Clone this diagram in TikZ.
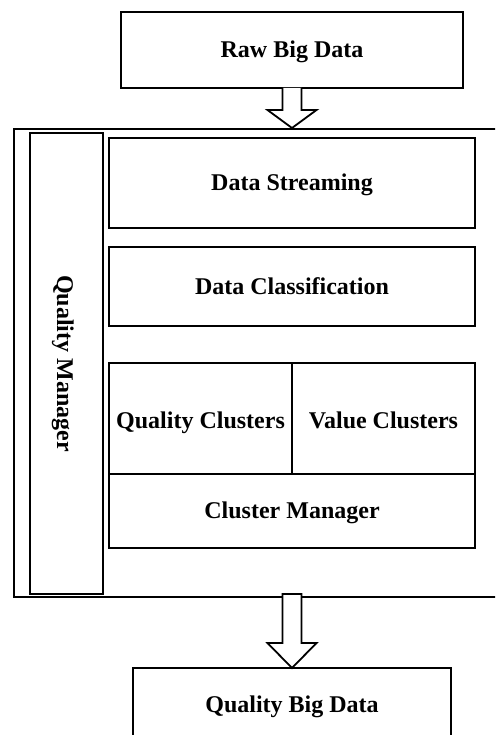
\documentclass[tikz,border=0pt]{standalone}
\usepackage{fontspec}
\setmainfont{Liberation Serif}
\usetikzlibrary{calc}
\begin{document}
\begin{tikzpicture}[x=1pt,y=-1pt,
  lbl/.style={font=\fontsize{24}{26}\selectfont\bfseries,text height=20pt,text depth=5pt},
  box/.style={lbl,draw,line width=1.8pt,inner sep=0pt,outer sep=0pt,fill=white,align=center},
  hollowarrow/.style={draw,line width=1.8pt,fill=white,line join=miter}]
\useasboundingbox (0,0) rectangle (495,735);
\clip (0,0) rectangle (495,735);
% outer frame (open on the right)
\coordinate (otr) at (500,129);
\coordinate (obr) at (500,597);
\draw[line width=2pt] (otr) -- (14,129) -- (14,597) -- (obr);
% boxes
\node[box,minimum width=342pt,minimum height=76pt] (raw) at (292,50) {Raw Big Data};
\node[box,minimum width=73pt,minimum height=461pt] (qm) at (66.5,363.5) {};
\node[lbl,rotate=-90,inner sep=0pt] (qmt) at ($(qm.center)+(-2,0)$) {Quality Manager};
\node[box,minimum width=366pt,minimum height=90pt] (ds) at (292,183) {Data Streaming};
\node[box,minimum width=366pt,minimum height=79pt] (dc) at (292,286.5) {Data Classification};
\node[box,minimum width=183pt,minimum height=111pt] (qc) at (200.5,418.5) {};
\node[box,minimum width=183pt,minimum height=111pt] (vc) at (383.5,418.5) {};
\node[lbl,inner sep=0pt] (qct) at ($(qc.center)+(0,2)$) {Quality Clusters};
\node[lbl,inner sep=0pt] (vct) at ($(vc.center)+(0,2)$) {Value Clusters};
\node[box,minimum width=366pt,minimum height=74pt] (cm) at (292,511) {Cluster Manager};
\node[box,minimum width=318pt,minimum height=74pt] (qbd) at (292,705) {Quality Big Data};
% top hollow arrow
\draw[hollowarrow]
  ($(raw.south)+(-9.5,0)$) -- ++(0,22) -- ++(-15,0) -- ($(raw.south)+(0,40)$) coordinate (t1)
  -- ($(raw.south)+(24.5,22)$) -- ++(-15,0) -- ($(raw.south)+(9.5,0)$);
% bottom hollow arrow
\draw[hollowarrow]
  ($(qbd.north)+(-9.5,-74)$) -- ($(qbd.north)+(-9.5,-25)$) -- ($(qbd.north)+(-24.5,-25)$)
  -- (qbd.north) -- ($(qbd.north)+(24.5,-25)$) -- ($(qbd.north)+(9.5,-25)$)
  -- ($(qbd.north)+(9.5,-74)$) -- cycle;
\end{tikzpicture}
\end{document}
